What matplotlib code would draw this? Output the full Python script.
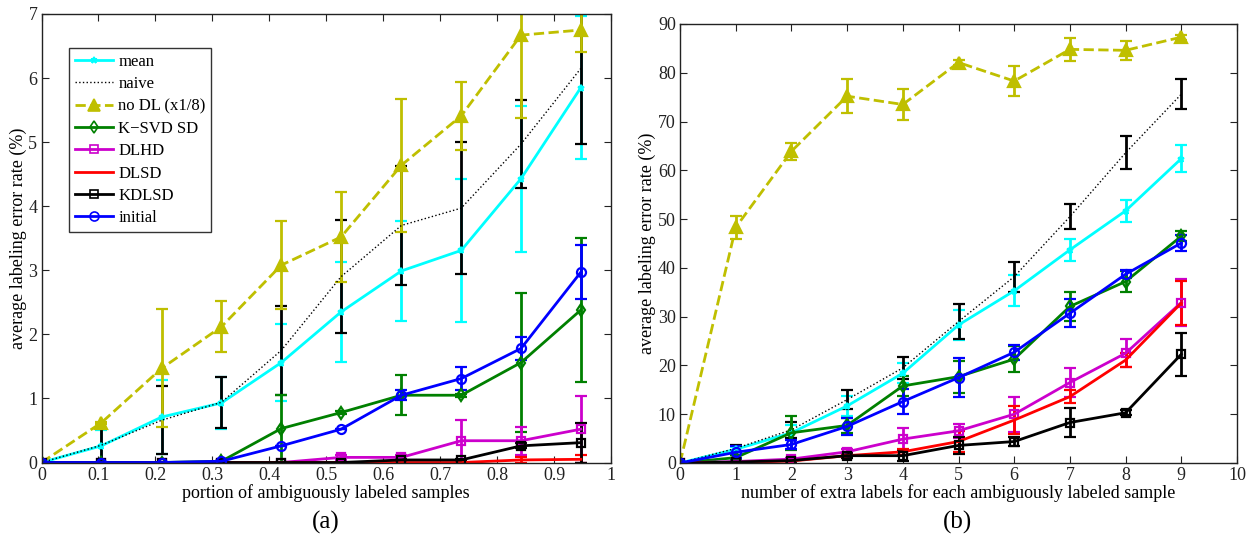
import matplotlib
matplotlib.use("Agg")
import matplotlib.pyplot as plt
from matplotlib.lines import Line2D

plt.rcParams['font.family'] = ['Liberation Serif', 'DejaVu Serif']

# ---------------- data: panel (a) ----------------
xa = [0, 0.105, 0.211, 0.316, 0.421, 0.526, 0.632, 0.737, 0.842, 0.947]
a_mean = [0, 0.26, 0.71, 0.93, 1.56, 2.35, 2.99, 3.31, 4.43, 5.85]
a_mean_err = [0, 0.25, 0.57, 0.40, 0.60, 0.78, 0.78, 1.12, 1.14, 1.12]
a_naive = [0, 0.27, 0.66, 0.94, 1.75, 2.90, 3.70, 3.97, 4.97, 6.15]
a_naive_err = [0, 0.27, 0.53, 0.40, 0.70, 0.88, 0.93, 1.03, 0.69, 1.18]
a_nodl = [0, 0.62, 1.47, 2.12, 3.08, 3.52, 4.64, 5.41, 6.67, 6.75]
a_nodl_err = [0, 0.02, 0.92, 0.40, 0.69, 0.70, 1.04, 0.53, 1.30, 0.35]
a_ksvd = [0, 0, 0, 0.02, 0.53, 0.78, 1.05, 1.05, 1.56, 2.38]
a_ksvd_err = [0, 0, 0, 0, 0.52, 0.02, 0.31, 0.02, 1.08, 1.12]
a_dlhd = [0, 0, 0, 0, 0, 0.08, 0.08, 0.34, 0.34, 0.52]
a_dlhd_err = [0, 0, 0, 0, 0, 0.04, 0.04, 0.33, 0.22, 0.52]
a_dlsd = [0, 0, 0, 0, 0, 0, 0, 0, 0.04, 0.05]
a_dlsd_err = [0, 0, 0, 0, 0, 0, 0, 0, 0.04, 0.06]
a_kdlsd = [0, 0, 0, 0, 0, 0, 0.04, 0.04, 0.26, 0.31]
a_kdlsd_err = [0, 0, 0, 0, 0, 0, 0.02, 0.02, 0.04, 0.31]
a_init = [0, 0, 0, 0.02, 0.26, 0.52, 1.05, 1.31, 1.78, 2.97]
a_init_err = [0, 0, 0, 0, 0, 0, 0.08, 0.18, 0.18, 0.42]
a_xticks = [0, 0.1, 0.2, 0.3, 0.4, 0.5, 0.6, 0.7, 0.8, 0.9, 1]
a_xticklabels = ['0', '0.1', '0.2', '0.3', '0.4', '0.5', '0.6', '0.7', '0.8', '0.9', '1']
a_yticks = [0, 1, 2, 3, 4, 5, 6, 7]

# ---------------- data: panel (b) ----------------
xb = [0, 1, 2, 3, 4, 5, 6, 7, 8, 9]
b_mean = [0, 2.8, 6.2, 11.7, 18.4, 28.3, 35.3, 43.7, 51.7, 62.4]
b_mean_err = [0, 0.5, 1.5, 2.0, 2.0, 3.0, 3.2, 2.2, 2.2, 2.7]
b_naive = [0, 3.0, 6.8, 13.0, 19.5, 29.0, 38.2, 50.5, 63.6, 75.6]
b_naive_err = [0, 0.7, 1.7, 2.0, 2.3, 3.5, 3.1, 2.5, 3.4, 3.1]
b_nodl = [0, 48.3, 63.9, 75.2, 73.5, 82.1, 78.3, 84.8, 84.6, 87.3]
b_nodl_err = [0, 2.4, 1.8, 3.5, 3.1, 0.5, 3.1, 2.4, 2.0, 0.5]
b_ksvd = [0, 1.1, 6.2, 7.7, 15.8, 17.7, 21.3, 32.1, 37.2, 46.5]
b_ksvd_err = [0, 0.5, 3.5, 1.5, 2.0, 3.3, 2.7, 3.0, 2.2, 1.0]
b_dlhd = [0, 0.3, 0.8, 2.3, 4.9, 6.6, 10.0, 16.5, 22.5, 32.9]
b_dlhd_err = [0, 0.2, 0.3, 0.6, 2.2, 1.4, 3.6, 2.9, 2.9, 4.8]
b_dlsd = [0, 0.1, 0.4, 1.5, 2.3, 4.4, 8.8, 13.6, 21.1, 32.8]
b_dlsd_err = [0, 0.1, 0.2, 0.4, 0.6, 2.2, 2.8, 1.4, 1.5, 4.6]
b_kdlsd = [0, 0.2, 0.5, 1.5, 1.5, 3.6, 4.4, 8.3, 10.3, 22.3]
b_kdlsd_err = [0, 0.2, 0.3, 0.5, 1.0, 1.7, 1.0, 2.9, 0.5, 4.4]
b_init = [0, 2.2, 3.8, 7.5, 12.6, 17.5, 22.7, 30.7, 38.7, 45.1]
b_init_err = [0, 1.2, 1.0, 1.8, 2.6, 4.0, 1.5, 2.9, 0.8, 1.7]
b_xticks = [0, 1, 2, 3, 4, 5, 6, 7, 8, 9, 10]
b_yticks = [0, 10, 20, 30, 40, 50, 60, 70, 80, 90]

labels = ['mean', 'naive', 'no DL (x1/8)', 'K\u2212SVD SD', 'DLHD', 'DLSD', 'KDLSD', 'initial']

YEL = '#bfbf00'
styles = [
    dict(color='cyan', ls='-', marker='*', ms=5, lw=2.0),
    dict(color='black', ls=':', marker=None, ms=0, lw=1.0),
    dict(color=YEL, ls='--', marker='^', ms=8, lw=2.0),
    dict(color='#008000', ls='-', marker='d', ms=6.5, lw=2.0),
    dict(color='#cc00cc', ls='-', marker='s', ms=5.5, lw=2.0),
    dict(color='red', ls='-', marker=None, ms=0, lw=2.0),
    dict(color='black', ls='-', marker='s', ms=5.5, lw=2.0),
    dict(color='blue', ls='-', marker='o', ms=6.5, lw=2.0),
]

fig = plt.figure(figsize=(12.51, 5.44), dpi=100)
axA = fig.add_axes([0.0332, 0.1498, 0.4552, 0.8245])
axB = fig.add_axes([0.5436, 0.1489, 0.4452, 0.8070])


def draw(ax, x, series, errs):
    for y, e, st in zip(series, errs, styles):
        mfc = st['color'] if st['marker'] == '^' else 'none'
        ax.errorbar(x, y, yerr=e, color=st['color'], ls=st['ls'], lw=st['lw'],
                    marker=st['marker'] if st['marker'] else '', ms=st['ms'],
                    mfc=mfc, mec=st['color'], mew=1.6,
                    ecolor='black' if st['ls'] == ':' else st['color'],
                    elinewidth=2.0, capsize=4.5, capthick=2.0)


draw(axA, xa, [a_mean, a_naive, a_nodl, a_ksvd, a_dlhd, a_dlsd, a_kdlsd, a_init],
     [a_mean_err, a_naive_err, a_nodl_err, a_ksvd_err, a_dlhd_err, a_dlsd_err, a_kdlsd_err, a_init_err])
draw(axB, xb, [b_mean, b_naive, b_nodl, b_ksvd, b_dlhd, b_dlsd, b_kdlsd, b_init],
     [b_mean_err, b_naive_err, b_nodl_err, b_ksvd_err, b_dlhd_err, b_dlsd_err, b_kdlsd_err, b_init_err])

axA.set_xlim(0, 1)
axA.set_ylim(0, 7)
axA.set_xticks(a_xticks)
axA.set_xticklabels(a_xticklabels)
axA.set_yticks(a_yticks)
axB.set_xlim(0, 10)
axB.set_ylim(0, 90)
axB.set_xticks(b_xticks)
axB.set_yticks(b_yticks)

for ax in (axA, axB):
    ax.tick_params(direction='in', top=True, right=True, length=5, width=0.8,
                   labelsize=13, colors='#222222', pad=3)
    for s in ax.spines.values():
        s.set_linewidth(1.0)
        s.set_color('#222222')
    ax.set_ylabel('average labeling error rate (%)', fontsize=13, labelpad=1)

axA.set_xlabel('portion of ambiguously labeled samples', fontsize=13, labelpad=0)
axB.set_xlabel('number of extra labels for each ambiguously labeled sample', fontsize=13, labelpad=0)

leg_handles = []
for st in styles:
    mfc = st['color'] if st['marker'] == '^' else 'none'
    leg_handles.append(Line2D([], [], color=st['color'], ls=st['ls'], lw=st['lw'],
                              marker=st['marker'] if st['marker'] else '',
                              ms=st['ms'], mfc=mfc, mec=st['color'], mew=1.2))
leg = axA.legend(leg_handles, labels, loc='upper left', bbox_to_anchor=(0.0483, 0.924),
                 borderaxespad=0, fontsize=12, frameon=True, fancybox=False,
                 edgecolor='black', handlelength=2.3, handletextpad=0.3,
                 labelspacing=0.38, borderpad=0.35)
leg.get_frame().set_linewidth(1.0)

fig.text(326 / 1251, 1 - 522 / 544, '(a)', ha='center', va='center', fontsize=18)
fig.text(958 / 1251, 1 - 522 / 544, '(b)', ha='center', va='center', fontsize=18)

fig.savefig('out.png', dpi=100)
